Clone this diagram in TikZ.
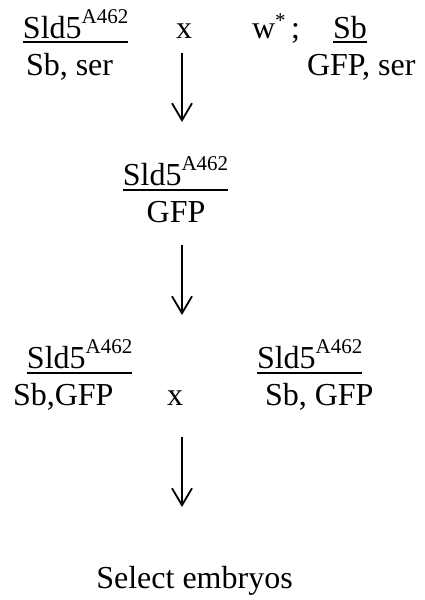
\documentclass[tikz,border=0pt]{standalone}
\usepackage{fontspec}
\setmainfont{Liberation Serif}
\usetikzlibrary{arrows.meta}
\newcommand\myup[1]{\raisebox{15pt}{\fontsize{21}{21}\selectfont #1}}
\newcommand\mystar{\raisebox{11pt}{\fontsize{21}{21}\selectfont *}}
\begin{document}
\begin{tikzpicture}[x=1pt,y=-1pt,
  every node/.style={inner sep=0pt,outer sep=0pt,font=\fontsize{32}{38}\selectfont},
  txt/.style={anchor=base west},
  ctr/.style={anchor=base},
  uline/.style={line width=1.8pt},
  arr/.style={line width=1.8pt,-{Straight Barb[length=17pt,width=20pt,line width=1.8pt]}}]
\useasboundingbox (0,0) rectangle (425,600);
% row 1
\node[txt] (n1) at (23,38) {Sld5\myup{A462}};
\node[txt] (d1) at (26,75) {Sb, ser};
\node[ctr] (x1) at (184,38) {x};
\node[txt] (w) at (252,38) {w\mystar};
\node[txt] (semi) at (291,38) {;};
\node[txt] (n2) at (333,38) {Sb};
\node[txt] (d2) at (307,75) {GFP, ser};
\draw[uline] ([yshift=-4pt]n1.base west) -- ([yshift=-4pt]n1.base east);
\draw[uline] ([yshift=-4pt]n2.base west) -- ([yshift=-4pt]n2.base east);
% row 2
\node[ctr] (n3) at (175.5,185) {Sld5\myup{A462}};
\node[ctr] (d3) at (176,222) {GFP};
\draw[uline] ([yshift=-5pt]n3.base west) -- ([yshift=-5pt]n3.base east);
% row 3
\node[txt] (n4) at (27,368) {Sld5\myup{A462}};
\node[txt] (d4) at (13,405) {Sb,GFP};
\node[ctr] (x2) at (175,405) {x};
\node[txt] (n5) at (257,368) {Sld5\myup{A462}};
\node[txt] (d5) at (265,405) {Sb, GFP};
\draw[uline] ([yshift=-5pt]n4.base west) -- ([yshift=-5pt]n4.base east);
\draw[uline] ([yshift=-5pt]n5.base west) -- ([yshift=-5pt]n5.base east);
% row 4
\node[ctr] (sel) at (194.5,588) {Select embryos};
% arrows
\coordinate (a1s) at (182,53);
\coordinate (a1e) at (182,122);
\coordinate (a2s) at (182,245);
\coordinate (a2e) at (182,315);
\coordinate (a3s) at (182,437);
\coordinate (a3e) at (182,507);
\draw[arr] (a1s) -- (a1e);
\draw[arr] (a2s) -- (a2e);
\draw[arr] (a3s) -- (a3e);
\end{tikzpicture}
\end{document}
